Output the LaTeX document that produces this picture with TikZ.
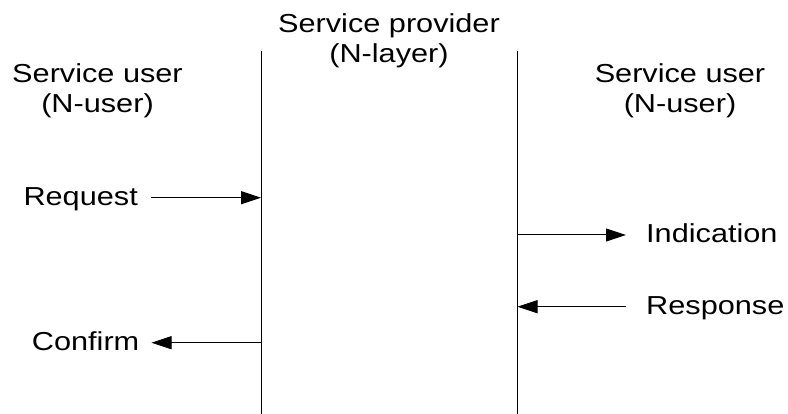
\documentclass[tikz,border=0pt]{standalone}
\usepackage{fontspec}
\setmainfont{Liberation Sans}[FakeStretch=1.18]
\usetikzlibrary{arrows.meta}
\tikzset{head/.style={align=center,inner sep=0pt,anchor=north,font=\fontsize{26}{30}\selectfont},lbl/.style={inner sep=0pt,text height=16pt,text depth=0pt,font=\fontsize{26}{30}\selectfont},life/.style={draw=black,line width=1pt},arrow/.style={-{Triangle[length=20pt,width=13pt]},line width=1pt,draw=black}}

\begin{document}
\begin{tikzpicture}[x=1pt,y=-1pt]
\useasboundingbox (0,0) rectangle (788,414);
\coordinate (ltop) at (261,51);
\coordinate (lbot) at (261,414);
\coordinate (rtop) at (517.5,51);
\coordinate (rbot) at (517.5,414);
\node[head] (prov) at (389,13) {Service provider\\(N-layer)};
\node[head] (userl) at (97.5,63.5) {Service user\\(N-user)};
\node[head] (userr) at (680,63.5) {Service user\\(N-user)};
\node[lbl,anchor=east] (req) at (138,197.7) {Request};
\node[lbl,anchor=west] (ind) at (646,235) {Indication};
\node[lbl,anchor=west] (resp) at (646,306.7) {Response};
\node[lbl,anchor=east] (conf) at (139.5,342.7) {Confirm};
\draw[life] (ltop) -- (lbot);
\draw[life] (rtop) -- (rbot);
\draw[arrow,shorten <=13pt] (req) -- (req -| ltop);
\draw[arrow,shorten >=20pt] (ind -| rtop) -- (ind);
\draw[arrow,shorten <=20pt] (resp) -- (resp -| rtop);
\draw[arrow,shorten >=12pt] (conf -| ltop) -- (conf);
\end{tikzpicture}
\end{document}
